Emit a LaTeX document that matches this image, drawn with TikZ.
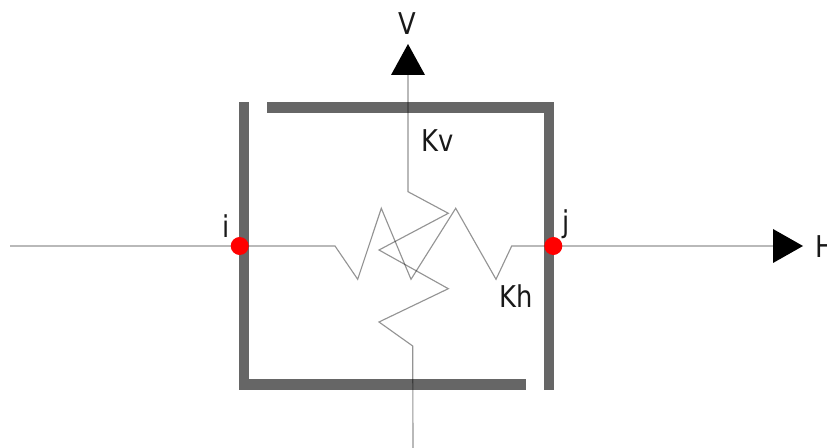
\documentclass[tikz,border=0pt]{standalone}
\usepackage{fontspec}
\usetikzlibrary{backgrounds}
\setmainfont{DejaVu Sans}
\begin{document}
\begin{tikzpicture}[x=0.75pt,y=-0.75pt,
  bar/.style={fill=black!60,draw=none},
  wire/.style={draw=black,draw opacity=0.42,line width=0.85pt,line join=miter},
  headtip/.style={fill=black,draw=none},
  joint/.style={circle,fill=red,draw=none,minimum size=13.5pt,inner sep=0pt},
  lbl/.style={inner sep=0pt,anchor=base west,font=\fontsize{22.5}{25}\selectfont,text=black!90,xscale=0.86}]
\useasboundingbox (0,0) rectangle (827,448);
% named ends
\coordinate (w) at (10,246);
\coordinate (htip) at (803,246);
\coordinate (hbase) at (773,246);
\coordinate (vtip) at (408,44);
\coordinate (vbase) at (408,75);
\coordinate (s) at (413,448);
\node[joint] (i) at (239.7,246) {};
\node[joint] (j) at (553.3,246) {};
\begin{pgfonlayer}{background}
% frame
\fill[bar] (239,102) rectangle (249,390);
\fill[bar] (249,379) rectangle (526,390);
\fill[bar] (267,102) rectangle (544,113);
\fill[bar] (544,102) rectangle (554,390);
% wires
\draw[wire] (w) -- (i.center) -- (335,246) -- (357.7,279.3) -- (381.3,208.3) -- (411,279.3) -- (455.7,208.3) -- (496,279.3) -- (511.7,246) -- (j.center) -- (hbase);
\draw[wire] (vbase) -- (408,191.7) -- (448.3,213.3) -- (379,250) -- (448.3,288.7) -- (379,322) -- (412.7,346) -- (s);
\end{pgfonlayer}
% arrow heads
\fill[headtip] (htip) -- (773,229) -- (773,263) -- cycle;
\fill[headtip] (vtip) -- (391,75) -- (425,75) -- cycle;
% labels
\node[lbl] (lv) at (398.5,35) {V};
\node[lbl] (lh) at (815,258) {H};
\node[lbl] (lkv) at (421,152) {Kv};
\node[lbl] (lkh) at (499,308) {Kh};
\node[lbl] (li) at (222,238) {i};
\node[lbl] (lj) at (562,233) {j};
\end{tikzpicture}
\end{document}
